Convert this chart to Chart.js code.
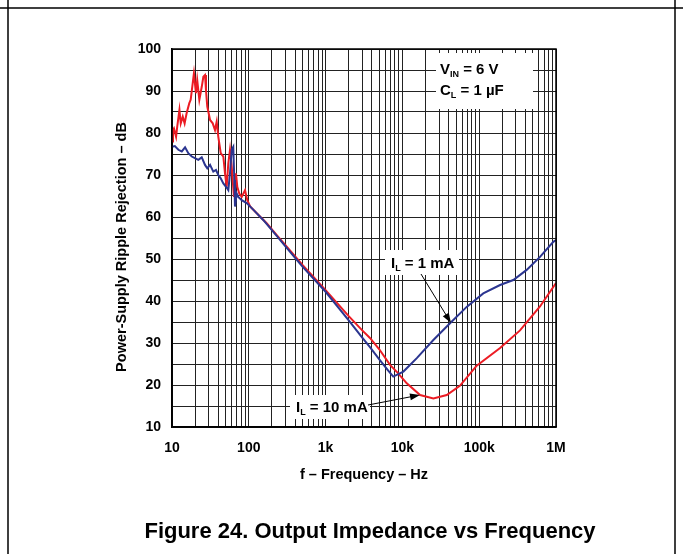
<!DOCTYPE html>
<html lang="en">
<head>
    <meta charset="UTF-8">
    <title>Power-Supply Ripple Rejection vs Frequency</title>
    <style>
        html, body { margin: 0; padding: 0; background: #fff; }
        #wrap { width: 683px; height: 554px; }
    </style>
</head>
<body>
    <div id="wrap"><canvas id="myChart" width="683" height="554"></canvas></div>

    <script src="https://cdn.jsdelivr.net/npm/chart.js@4"></script>
    <script>
        // I_L = 10 mA (red)
        const redFreq = [10, 10.3, 10.6, 11.3, 11.7, 12.5, 13.0, 13.8, 14.6, 15.5,
            16.8, 17.5, 18.6, 19.3, 20.5, 21.3, 22.7, 24.4, 25.6, 26.9,
            27.7, 28.8, 31.3, 33.9, 36.3, 38.2, 40.1, 43.1, 46.6, 49.0,
            51.5, 54.1, 56.9, 59.9, 61.7, 64.1, 68.1, 70.8, 75.2, 80.9,
            89.3, 95.6, 104, 127, 171, 231, 300, 500, 1000, 2000,
            3000, 3780, 5000, 6900, 8700, 11400, 17000, 25300, 37800, 56000,
            92800, 187000, 340000, 619000, 1000000];
        const redDb = [78, 80.7, 81.1, 79.1, 81.5, 85.5, 82.3, 83.9, 82.3, 84.7,
            87.1, 87.9, 91.8, 94.2, 89.5, 92.6, 87.9, 91.0, 93.4, 93.8,
            90.2, 86.3, 83.1, 82.3, 80.7, 82.7, 79.1, 75.2, 74.4, 70.4,
            67.2, 72.8, 76.0, 72.0, 68.8, 64.8, 70.4, 67.2, 65.6, 64.8,
            66.4, 64.0, 62.5, 60.9, 58.5, 55.7, 53.3, 48.6, 42.6, 36.4,
            33.0, 31.2, 28.5, 24.8, 22.9, 20.4, 17.6, 16.8, 17.6, 19.8,
            24.6, 28.8, 33.0, 38.7, 44.3];

        // I_L = 1 mA (blue)
        const blueFreq = [10, 10.9, 12.1, 13.4, 14.8, 16.3, 18.1, 19.9, 22.0, 24.4,
            26.9, 28.8, 31.3, 34.5, 37.4, 40.1, 43.1, 46.6, 50.5, 54.1,
            56.9, 59.9, 62.8, 64.8, 66.1, 69.6, 73.0, 80.9, 93.9, 115,
            154, 231, 300, 500, 1000, 2000, 3000, 3780, 5000, 6500,
            7600, 10300, 15400, 25300, 41700, 68700, 113000, 187000, 278000, 415000,
            619000, 922000, 1000000];
        const blueDb = [76.7, 76.9, 76.0, 75.6, 76.6, 75.2, 74.4, 74.0, 73.6, 74.2,
            72.4, 71.6, 72.4, 70.8, 71.2, 70.0, 69.2, 68.0, 67.2, 66.4,
            70.4, 76.0, 76.7, 68.8, 62.5, 65.6, 64.8, 64.0, 63.3, 61.7,
            59.3, 55.5, 53.0, 48.2, 42.2, 35.4, 31.3, 29.0, 26.1, 23.5,
            22.0, 23.2, 26.4, 30.7, 34.7, 38.6, 41.8, 43.8, 45.0, 47.4,
            50.5, 54.1, 54.5];

        const xDecades = [10, 100, 1000, 10000, 100000, 1000000];
        const xTickLabels = ['10', '100', '1k', '10k', '100k', '1M'];
        const yTickLabels = ['10', '20', '30', '40', '50', '60', '70', '80', '90', '100'];

        const FONT = '"Liberation Sans", Arial, sans-serif';

        // grid: 1..9 per decade, 5 dB steps
        const xGrid = [];
        xDecades.slice(0, -1).forEach(d => { for (let m = 1; m < 10; m++) xGrid.push(d * m); });
        xGrid.push(1000000);
        const yGrid = [];
        for (let v = 10; v <= 100; v += 5) yGrid.push(v);

        function toPoints(fs, vs) {
            return fs.map((f, i) => ({ x: f, y: vs[i] }));
        }

        // text with subscript, e.g. V + IN + " = 6 V"
        function subText(ctx, x, y, main, sub, rest) {
            ctx.font = 'bold 15px ' + FONT;
            ctx.fillText(main, x, y);
            x += ctx.measureText(main).width;
            ctx.font = 'bold 9px ' + FONT;
            ctx.fillText(sub, x, y + 3);
            x += ctx.measureText(sub).width;
            ctx.font = 'bold 15px ' + FONT;
            ctx.fillText(rest, x, y);
        }

        function arrow(ctx, x1, y1, x2, y2) {
            const a = Math.atan2(y2 - y1, x2 - x1);
            ctx.beginPath();
            ctx.moveTo(x1, y1);
            ctx.lineTo(x2 - 8 * Math.cos(a), y2 - 8 * Math.sin(a));
            ctx.strokeStyle = '#000';
            ctx.lineWidth = 1;
            ctx.stroke();
            ctx.beginPath();
            ctx.moveTo(x2, y2);
            ctx.lineTo(x2 - 10 * Math.cos(a) + 3.5 * Math.sin(a), y2 - 10 * Math.sin(a) - 3.5 * Math.cos(a));
            ctx.lineTo(x2 - 10 * Math.cos(a) - 3.5 * Math.sin(a), y2 - 10 * Math.sin(a) + 3.5 * Math.cos(a));
            ctx.closePath();
            ctx.fillStyle = '#000';
            ctx.fill();
        }

        const decor = {
            id: 'decor',
            beforeDraw(chart) {
                const ctx = chart.ctx;
                ctx.save();
                ctx.fillStyle = '#fff';
                ctx.fillRect(0, 0, chart.width, chart.height);
                ctx.restore();
            },
            beforeDatasetsDraw(chart) {
                // white patches behind the notes
                const ctx = chart.ctx;
                ctx.save();
                ctx.fillStyle = '#fff';
                ctx.fillRect(436, 53, 97, 56);
                ctx.fillRect(385, 250, 74, 25);
                ctx.fillRect(290, 395, 80, 24);
                ctx.restore();
            },
            afterDraw(chart) {
                const ctx = chart.ctx;
                const a = chart.chartArea;
                ctx.save();
                // plot frame
                ctx.strokeStyle = '#000';
                ctx.lineWidth = 1.5;
                ctx.strokeRect(a.left, a.top, a.right - a.left, a.bottom - a.top);

                // page frame
                ctx.lineWidth = 1.5;
                ctx.beginPath();
                ctx.moveTo(0, 8); ctx.lineTo(683, 8);
                ctx.moveTo(8, 0); ctx.lineTo(8, 554);
                ctx.moveTo(675, 0); ctx.lineTo(675, 554);
                ctx.stroke();

                ctx.fillStyle = '#000';
                ctx.textBaseline = 'alphabetic';
                ctx.textAlign = 'left';
                subText(ctx, 440, 74, 'V', 'IN', ' = 6 V');
                subText(ctx, 440, 95, 'C', 'L', ' = 1 µF');
                subText(ctx, 391, 268, 'I', 'L', ' = 1 mA');
                subText(ctx, 296, 412, 'I', 'L', ' = 10 mA');

                arrow(ctx, 421, 274, 451, 323);
                arrow(ctx, 368, 405, 420, 395);

                // axis titles
                ctx.textAlign = 'center';
                ctx.textBaseline = 'middle';
                ctx.font = 'bold 14.5px ' + FONT;
                ctx.fillText('f – Frequency – Hz', 364, 475);
                ctx.save();
                ctx.translate(122, 247);
                ctx.rotate(-Math.PI / 2);
                ctx.fillText('Power-Supply Ripple Rejection – dB', 0, 0);
                ctx.restore();

                ctx.font = 'bold 22px ' + FONT;
                ctx.fillText('Figure 24. Output Impedance vs Frequency', 370, 532);
                ctx.restore();
            }
        };

        const config = {
            type: 'line',
            data: {
                datasets: [{
                    label: 'I_L = 1 mA',
                    data: toPoints(blueFreq, blueDb),
                    borderColor: '#2b3590',
                    borderWidth: 2,
                    pointRadius: 0,
                    tension: 0
                }, {
                    label: 'I_L = 10 mA',
                    data: toPoints(redFreq, redDb),
                    borderColor: '#ec1c24',
                    borderWidth: 2,
                    pointRadius: 0,
                    tension: 0
                }]
            },
            options: {
                responsive: false,
                animation: false,
                layout: { padding: { left: 122, right: 127, top: 49, bottom: 87 } },
                plugins: {
                    legend: { display: false },
                    tooltip: { enabled: false }
                },
                scales: {
                    x: {
                        type: 'logarithmic',
                        min: 10,
                        max: 1000000,
                        afterBuildTicks: s => { s.ticks = xGrid.map(v => ({ value: v })); },
                        afterFit: s => { s.height = 40; },
                        ticks: {
                            autoSkip: false,
                            maxRotation: 0,
                            padding: 13,
                            color: '#000',
                            font: { family: FONT, size: 14, weight: 'bold' },
                            callback: v => {
                                const i = xDecades.indexOf(v);
                                return i >= 0 ? xTickLabels[i] : '';
                            }
                        },
                        grid: { color: '#222', lineWidth: 1, drawTicks: false },
                        border: { color: '#000', width: 1.5 }
                    },
                    y: {
                        min: 10,
                        max: 100,
                        afterBuildTicks: s => { s.ticks = yGrid.map(v => ({ value: v })); },
                        afterFit: s => { s.width = 50; },
                        ticks: {
                            autoSkip: false,
                            padding: 11,
                            color: '#000',
                            font: { family: FONT, size: 14, weight: 'bold' },
                            callback: v => {
                                const i = yTickLabels.indexOf(String(v));
                                return i >= 0 ? yTickLabels[i] : '';
                            }
                        },
                        grid: { color: '#222', lineWidth: 1, drawTicks: false },
                        border: { color: '#000', width: 1.5 }
                    }
                }
            },
            plugins: [decor]
        };

        const myChart = new Chart(document.getElementById('myChart'), config);
    </script>
</body>
</html>
